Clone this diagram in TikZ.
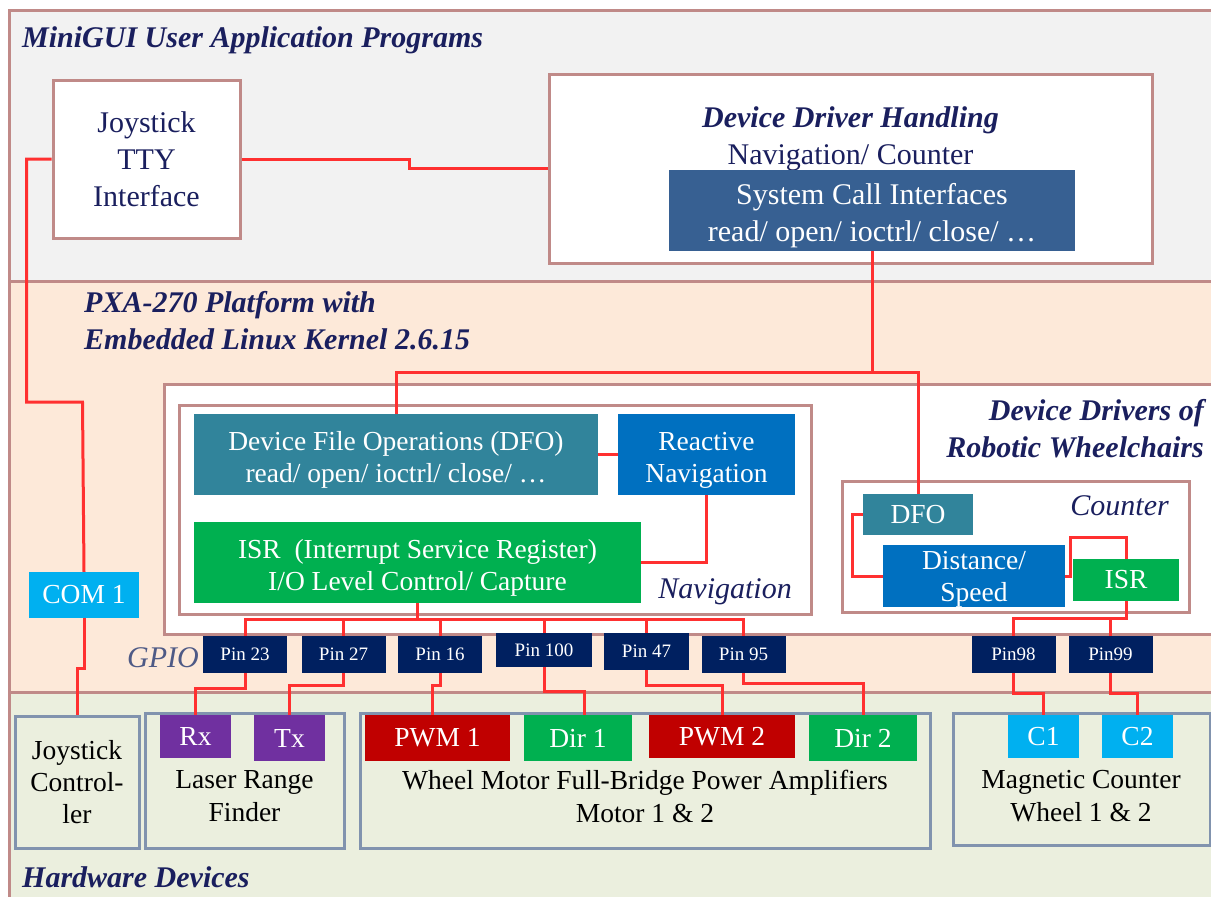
\documentclass[tikz,border=0pt]{standalone}
\usepackage{fontspec}
\setmainfont{Liberation Serif}
\usetikzlibrary{positioning, calc}
\definecolor{cframe}{HTML}{C08A88}
\definecolor{cgrayband}{HTML}{F2F2F2}
\definecolor{cpeach}{HTML}{FDE9D9}
\definecolor{colive}{HTML}{EBEFDE}
\definecolor{cteal}{HTML}{31849B}
\definecolor{cblue}{HTML}{0070C0}
\definecolor{csys}{HTML}{376092}
\definecolor{cgreen}{HTML}{00B050}
\definecolor{ccyan}{HTML}{00B0F0}
\definecolor{cnavy}{HTML}{002060}
\definecolor{cpurple}{HTML}{7030A0}
\definecolor{cdred}{HTML}{C00000}
\definecolor{cwire}{HTML}{FF3030}
\definecolor{chw}{HTML}{8193AE}
\definecolor{cink}{HTML}{1A1F5E}
\definecolor{cgpio}{HTML}{4E5A86}
\newcommand\bigfs{\fontsize{30}{37}\selectfont}
\newcommand\midfs{\fontsize{27.5}{32}\selectfont}
\newcommand\hwfs{\fontsize{27.5}{33}\selectfont}
\newcommand\pinfs{\fontsize{19}{22}\selectfont}
\newcommand\upstrut[1]{\rule{0pt}{#1}}

\begin{document}
\begin{tikzpicture}[
    x=1pt, y=-1pt,
    band/.style={draw=cframe, line width=3pt, fill=#1},
    wbox/.style={draw=cframe, line width=3pt, fill=white, inner sep=0pt},
    blk/.style={fill=#1, text=white, inner sep=0pt, align=center, font=\midfs},
    pin/.style={fill=cnavy, text=white, inner sep=0pt, font=\pinfs, minimum width=84pt, minimum height=37pt},
    hwbox/.style={draw=chw, line width=3pt, inner sep=0pt},
    hwtxt/.style={text=black, font=\hwfs, align=center, inner sep=0pt},
    ttl/.style={text=cink, font=\bigfs\bfseries\itshape, inner sep=0pt},
    tag/.style={text=cink, font=\bigfs\itshape, inner sep=0pt},
    wire/.style={draw=cwire, line width=3pt}
]
\clip (0,0) rectangle (1211,897);
\fill[white] (0,0) rectangle (1211,897);

%% Layers
\draw[band=cgrayband] (9,10) rectangle (1240,281);
\draw[band=cpeach] (9,281) rectangle (1240,692);
\draw[band=colive] (9,692) rectangle (1240,915);

%% MiniGUI user application programs
\node[ttl, anchor=base west] (app_ttl) at (22,47) {MiniGUI User Application Programs};
\node[wbox, minimum width=187pt, minimum height=158pt, text=cink, font=\bigfs, align=center] (joy_tty) at (146.5,159) {Joystick\\TTY\\Interface};
\node[wbox, minimum width=603pt, minimum height=189pt] (ddh) at (850.5,168.5) {};
\node[text=cink, font=\bigfs, align=center, inner sep=0pt, below=34pt of ddh.north] (ddh_ttl) {{\bfseries\itshape Device Driver Handling}\\Navigation/ Counter};
\node[blk=csys, font=\bigfs, minimum width=406pt, minimum height=81pt] (sci) at (872,210.5) {\upstrut{31pt}System Call Interfaces\\read/ open/ ioctrl/ close/ \ldots};

%% PXA-270 platform
\node[ttl, align=left, anchor=north west] (plat_ttl) at (84,291) {PXA-270 Platform with\\Embedded Linux Kernel 2.6.15};
\node[wbox, minimum width=1077pt, minimum height=250pt, anchor=north west] (drv) at (163,383) {};
\node[ttl, align=right, anchor=north east] (drv_ttl) at (1204,399) {Device Drivers of\\Robotic Wheelchairs};

%% Navigation driver
\node[wbox, minimum width=632pt, minimum height=209pt, anchor=north west] (nav) at (178,404) {};
\node[blk=cteal, minimum width=404pt, minimum height=81pt] (nav_dfo) at (396,454.5) {\upstrut{29pt}Device File Operations (DFO)\\read/ open/ ioctrl/ close/ \ldots};
\node[blk=cblue, minimum width=177pt, minimum height=81pt] (rnav) at (706.5,454.5) {\upstrut{29pt}Reactive\\Navigation};
\node[blk=cgreen, minimum width=447pt, minimum height=81pt] (nav_isr) at (417.5,562.5) {\upstrut{29pt}ISR\ \ (Interrupt Service Register)\\I/O Level Control/ Capture};
\node[tag, anchor=base east] (nav_ttl) at (792,598) {Navigation};

%% Counter driver
\node[wbox, minimum width=347pt, minimum height=131pt, anchor=north west] (cnt) at (841,480) {};
\node[tag, anchor=base east] (cnt_ttl) at (1169,515) {Counter};
\node[blk=cteal, minimum width=110pt, minimum height=41pt] (cnt_dfo) at (918,514.5) {DFO};
\node[blk=cblue, minimum width=182pt, minimum height=62pt] (dist) at (974,576) {\upstrut{25pt}Distance/\\Speed};
\node[blk=cgreen, minimum width=106pt, minimum height=42pt] (cnt_isr) at (1126,580) {ISR};

%% COM port and GPIO pins
\node[blk=ccyan, minimum width=110pt, minimum height=46pt] (com) at (84,595) {COM 1};
\node[tag, text=cgpio, anchor=base west] (gpio) at (127,667) {GPIO};
\node[pin] (p23) at (245,654.5) {Pin 23};
\node[pin] (p27) at (343.5,654.5) {Pin 27};
\node[pin] (p16) at (440,654.5) {Pin 16};
\node[pin, minimum width=96pt, minimum height=34pt] (p100) at (544,650) {Pin 100};
\node[pin, minimum width=85pt] (p47) at (646.5,651.5) {Pin 47};
\node[pin] (p95) at (743.5,654.5) {Pin 95};
\node[pin] (p98) at (1013.5,654.5) {Pin98};
\node[pin] (p99) at (1110.5,654.5) {Pin99};

%% Hardware devices
\node[hwbox, minimum width=124pt, minimum height=132pt, font=\midfs, align=center] (joyc) at (77,782) {Joystick\\Control-\\ler};
\node[hwbox, minimum width=199pt, minimum height=135pt] (lrf) at (244.5,780.5) {};
\node[blk=cpurple, minimum width=71pt, minimum height=43pt] (rx) at (195.5,736.5) {Rx};
\node[blk=cpurple, minimum width=71pt, minimum height=46pt] (tx) at (289.5,738) {Tx};
\node[hwtxt, anchor=north] (lrf_txt) at (244.5,770) {Laser Range\\Finder};
\node[hwbox, minimum width=570pt, minimum height=135pt] (mot) at (645,780.5) {};
\node[blk=cdred, minimum width=145pt, minimum height=46pt] (pwm1) at (437.5,738) {PWM 1};
\node[blk=cgreen, minimum width=108pt, minimum height=46pt] (dir1) at (578,738) {Dir 1};
\node[blk=cdred, minimum width=146pt, minimum height=43pt] (pwm2) at (722,736.5) {PWM 2};
\node[blk=cgreen, minimum width=108pt, minimum height=46pt] (dir2) at (863,738) {Dir 2};
\node[hwtxt, anchor=north] (mot_txt) at (645,770) {Wheel Motor Full-Bridge Power Amplifiers\\Motor 1 \& 2};
\node[hwbox, minimum width=257pt, minimum height=132pt] (mag) at (1081.5,779) {};
\node[blk=ccyan, minimum width=71pt, minimum height=43pt] (c1) at (1043.5,736.5) {C1};
\node[blk=ccyan, minimum width=71pt, minimum height=43pt] (c2) at (1137.5,736.5) {C2};
\node[hwtxt, anchor=north] (mag_txt) at (1081,770) {Magnetic Counter\\Wheel 1 \& 2};
\node[ttl, anchor=base west] (hw_ttl) at (22,887) {Hardware Devices};

%% Wires
\draw[wire] (joy_tty.east) -- ++(168,0) |- (ddh.west);
\draw[wire] (joy_tty.west) -- ++(-25,0) |- ++(56,243) -- (com.north);
\draw[wire] (com.south) -- ++(0,50) -| (joyc.north);
\draw[wire] (sci.south) -- ++(0,121) coordinate (drv_bus) -| (nav_dfo.north);
\draw[wire] (drv_bus) -| (cnt_dfo.north);
\draw[wire] (nav_dfo.east) -- (rnav.west);
\draw[wire] (rnav.south) |- (nav_isr.east);
\draw[wire] (nav_isr.south) -- ++(0,16) coordinate (gpio_bus) -| (p23.north);
\draw[wire] (gpio_bus) -| (p27.north);
\draw[wire] (gpio_bus) -| (p16.north);
\draw[wire] (gpio_bus) -| (p100.north);
\draw[wire] (gpio_bus) -| (p47.north);
\draw[wire] (gpio_bus) -| (p95.north);
\draw[wire] (cnt_dfo.west) -- ++(-10,0) |- (dist.west);
\draw[wire] (dist.east) -- ++(5,0) -- ++(0,-39) -| (cnt_isr.north);
\draw[wire] (cnt_isr.south) -- ++(0,17) coordinate (cnt_bus) -| (p98.north);
\draw[wire] (cnt_bus) -| (p99.north);
\draw[wire] (p23.south) -- ++(0,15) -| (rx.north);
\draw[wire] (p27.south) -- ++(0,12) -| (tx.north);
\draw[wire] (p16.south) -- ++(0,12) -| ([xshift=-5pt]pwm1.north);
\draw[wire] (p100.south) -- ++(0,24) -| ([xshift=6pt]dir1.north);
\draw[wire] (p47.south) -- ++(0,15) -| (pwm2.north);
\draw[wire] (p95.south) -- ++(0,10) -| (dir2.north);
\draw[wire] (p98.south) -- ++(0,20) -| (c1.north);
\draw[wire] (p99.south) -- ++(0,20) -| (c2.north);

\end{tikzpicture}
\end{document}
